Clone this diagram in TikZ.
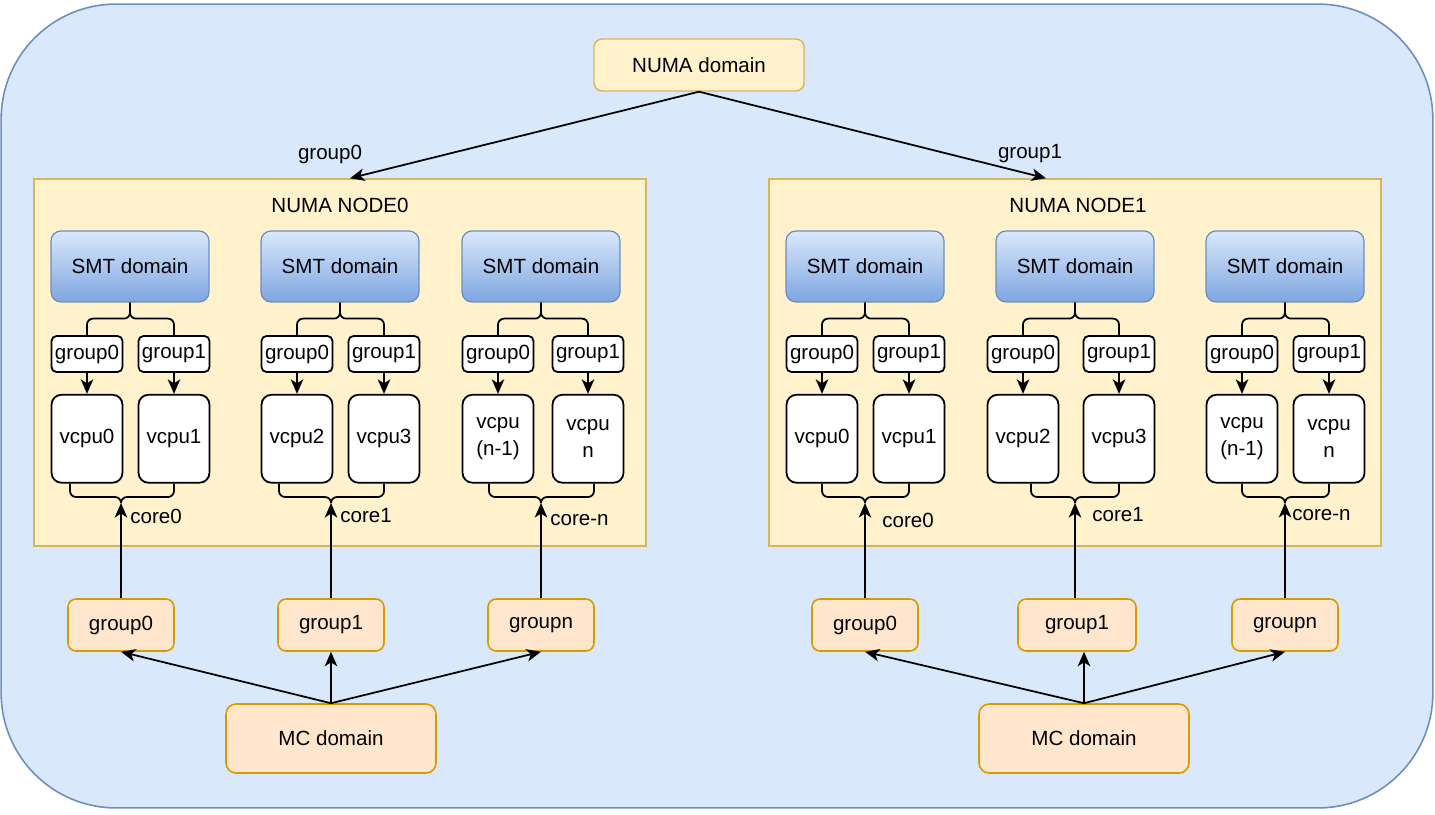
\documentclass[tikz,border=0pt]{standalone}
\usepackage{fontspec}
\setmainfont{Liberation Sans}
\usepackage{tikz}
\usetikzlibrary{arrows.meta,positioning,calc,backgrounds}
\definecolor{framefill}{RGB}{218,232,252}
\definecolor{framedraw}{RGB}{108,142,191}
\definecolor{numafill}{RGB}{255,242,204}
\definecolor{numadraw}{RGB}{214,182,86}
\definecolor{smttop}{RGB}{218,232,252}
\definecolor{smtbot}{RGB}{126,166,224}
\definecolor{mcfill}{RGB}{255,230,204}
\definecolor{mcdraw}{RGB}{215,155,0}

\begin{document}
\begin{tikzpicture}[x=0.02cm, y=-0.02cm, node distance=4.2mm and 3.4mm,
			>={Stealth[length=2.9mm,width=2.5mm,inset=0.8mm]},
			every node/.style={font=\fontsize{11.7}{15.3}\selectfont, text=black},
			frame/.style={draw=framedraw, fill=framefill, line width=0.9pt, rounded corners=2.3cm, minimum width=28.64cm, minimum height=16.08cm},
			numabox/.style={draw=numadraw, fill=numafill, line width=0.8pt, rounded corners=0.16cm, minimum width=4.2cm, minimum height=1.04cm},
			nodebox/.style={draw=numadraw, fill=numafill, line width=0.9pt, minimum width=12.24cm, minimum height=7.34cm, inner sep=0pt},
			smtbox/.style={draw=framedraw, top color=smttop, bottom color=smtbot, line width=0.7pt, rounded corners=0.2cm, minimum width=3.16cm, minimum height=1.42cm},
			smallgrp/.style={draw=black, fill=white, line width=1pt, rounded corners=0.1cm, minimum width=1.42cm, minimum height=0.72cm, inner sep=0pt},
			vcpubox/.style={draw=black, fill=white, line width=1pt, rounded corners=0.2cm, minimum width=1.42cm, minimum height=1.76cm, inner sep=0pt, align=center},
			ogroup/.style={draw=mcdraw, fill=mcfill, line width=0.9pt, rounded corners=0.16cm, minimum width=2.12cm, minimum height=1.04cm},
			mcbox/.style={draw=mcdraw, fill=mcfill, line width=0.9pt, rounded corners=0.2cm, minimum width=4.2cm, minimum height=1.38cm},
			word/.style={draw=none, inner sep=0pt},
			conn/.style={line width=1pt, ->},
			brace/.style={line width=1pt, rounded corners=0.12cm}
			]
			\useasboundingbox (0,0) rectangle (1435,814);
			\node[frame](outer) at (717,406) {};
			
			\node[numabox](numa) at (699,65) {NUMA domain};
			\node[word](lg0) at (330,154) {group0};
			\node[word](lg1) at (1030,154) {group1};
			
			\node[nodebox](node0) at (340,362.5) {};
			\node[nodebox](node1) at (1075,362.5) {};
			\node[word](title0) at (340,205) {NUMA NODE0};
			\node[word](title1) at (1078,205) {NUMA NODE1};
			
			% NUMA NODE0
			\node[smtbox](s0a) at (130,266.5) {SMT domain};
			\node[smtbox](s0b) at (340,266.5) {SMT domain};
			\node[smtbox](s0c) at (541,266.5) {SMT domain};
			
			\node[smallgrp](g0a0) at (87,354) {group0};
			\node[smallgrp](g0a1) at (174,354) {group1};
			\node[smallgrp](g0b0) at (297,354) {group0};
			\node[smallgrp](g0b1) at (384,354) {group1};
			\node[smallgrp](g0c0) at (498,354) {group0};
			\node[smallgrp](g0c1) at (588,354) {group1};
			
			\node[vcpubox](v0a0) [below = of g0a0] {vcpu0};
			\node[vcpubox](v0a1) [below = of g0a1] {vcpu1};
			\node[vcpubox](v0b0) [below = of g0b0] {vcpu2};
			\node[vcpubox](v0b1) [below = of g0b1] {vcpu3};
			\node[vcpubox](v0c0) [below = of g0c0] {vcpu\\(n-1)};
			\node[vcpubox](v0c1) [below = of g0c1] {vcpu\\n};
			
			\node[ogroup](og0a) at (121,625) {group0};
			\node[ogroup](og0b) at (331,625) {group1};
			\node[ogroup](og0c) at (541,625) {groupn};
			\node[mcbox](mc0) at (331,738.5) {MC domain};
			
			\node[word, anchor=west](c0a) at (130,516) {core0};
			\node[word, anchor=west](c0b) at (340,516) {core1};
			\node[word, anchor=west](c0c) at (550,520) {core-n};
			
			% NUMA NODE1
			\node[smtbox](s1a) at (865,266.5) {SMT domain};
			\node[smtbox](s1b) at (1075,266.5) {SMT domain};
			\node[smtbox](s1c) at (1285,266.5) {SMT domain};
			
			\node[smallgrp](g1a0) at (822,354) {group0};
			\node[smallgrp](g1a1) at (909,354) {group1};
			\node[smallgrp](g1b0) at (1023,354) {group0};
			\node[smallgrp](g1b1) at (1119,354) {group1};
			\node[smallgrp](g1c0) at (1242,354) {group0};
			\node[smallgrp](g1c1) at (1329,354) {group1};
			
			\node[vcpubox](v1a0) [below = of g1a0] {vcpu0};
			\node[vcpubox](v1a1) [below = of g1a1] {vcpu1};
			\node[vcpubox](v1b0) [below = of g1b0] {vcpu2};
			\node[vcpubox](v1b1) [below = of g1b1] {vcpu3};
			\node[vcpubox](v1c0) [below = of g1c0] {vcpu\\(n-1)};
			\node[vcpubox](v1c1) [below = of g1c1] {vcpu\\n};
			
			\node[ogroup](og1a) at (865,625) {group0};
			\node[ogroup, minimum width=2.36cm](og1b) at (1077,625) {group1};
			\node[ogroup](og1c) at (1285,625) {groupn};
			\node[mcbox](mc1) at (1084,738.5) {MC domain};
			
			\node[word, anchor=west](c1a) at (882,520) {core0};
			\node[word, anchor=west](c1b) at (1092,515) {core1};
			\node[word, anchor=west](c1c) at (1292,515) {core-n};
			
			% brace joints
			\coordinate (j0a) at ($(s0a.south)+(0,16)$);
			\coordinate (j0b) at ($(s0b.south)+(0,16)$);
			\coordinate (j0c) at ($(s0c.south)+(0,16)$);
			\coordinate (j1a) at ($(s1a.south)+(0,16)$);
			\coordinate (j1b) at ($(s1b.south)+(0,16)$);
			\coordinate (j1c) at ($(s1c.south)+(0,16)$);
			\coordinate (k0a) at (121,503);
			\coordinate (k0b) at (331,503);
			\coordinate (k0c) at (541,503);
			\coordinate (k1a) at (865,503);
			\coordinate (k1b) at (1075,503);
			\coordinate (k1c) at (1285,503);
			
			\draw [brace] (g0a0.north) |- (j0a) -- (s0a.south);
			\draw [brace] (g0a1.north) |- (j0a) -- (s0a.south);
			\draw [brace] (g0b0.north) |- (j0b) -- (s0b.south);
			\draw [brace] (g0b1.north) |- (j0b) -- (s0b.south);
			\draw [brace] (g0c0.north) |- (j0c) -- (s0c.south);
			\draw [brace] (g0c1.north) |- (j0c) -- (s0c.south);
			\draw [brace] (g1a0.north) |- (j1a) -- (s1a.south);
			\draw [brace] (g1a1.north) |- (j1a) -- (s1a.south);
			\draw [brace] (g1b0.north) |- (j1b) -- (s1b.south);
			\draw [brace] (g1b1.north) |- (j1b) -- (s1b.south);
			\draw [brace] (g1c0.north) |- (j1c) -- (s1c.south);
			\draw [brace] (g1c1.north) |- (j1c) -- (s1c.south);
			
			\draw [brace] ($(v0a0.south)+(-17,0)$) |- ($(k0a)+(0,-6)$) -- (k0a);
			\draw [brace] (v0a1.south) |- ($(k0a)+(0,-6)$) -- (k0a);
			\draw [brace] ($(v0b0.south)+(-18,0)$) |- ($(k0b)+(0,-6)$) -- (k0b);
			\draw [brace] (v0b1.south) |- ($(k0b)+(0,-6)$) -- (k0b);
			\draw [brace] ($(v0c0.south)+(-9,0)$) |- ($(k0c)+(0,-6)$) -- (k0c);
			\draw [brace] ($(v0c1.south)+(6,0)$) |- ($(k0c)+(0,-6)$) -- (k0c);
			\draw [brace] (v1a0.south) |- ($(k1a)+(0,-6)$) -- (k1a);
			\draw [brace] (v1a1.south) |- ($(k1a)+(0,-6)$) -- (k1a);
			\draw [brace] ($(v1b0.south)+(8,0)$) |- ($(k1b)+(0,-6)$) -- (k1b);
			\draw [brace] (v1b1.south) |- ($(k1b)+(0,-6)$) -- (k1b);
			\draw [brace] (v1c0.south) |- ($(k1c)+(0,-6)$) -- (k1c);
			\draw [brace] (v1c1.south) |- ($(k1c)+(0,-6)$) -- (k1c);
			
			% arrows
			\draw [conn] (numa.south) -- ($(node0.north)+(10,0)$);
			\draw [conn] (numa.south) -- ($(node1.north)+(-29,0)$);
			
			\draw [conn] (g0a0) -- (v0a0);
			\draw [conn] (g0a1) -- (v0a1);
			\draw [conn] (g0b0) -- (v0b0);
			\draw [conn] (g0b1) -- (v0b1);
			\draw [conn] (g0c0) -- (v0c0);
			\draw [conn] (g0c1) -- (v0c1);
			\draw [conn] (g1a0) -- (v1a0);
			\draw [conn] (g1a1) -- (v1a1);
			\draw [conn] (g1b0) -- (v1b0);
			\draw [conn] (g1b1) -- (v1b1);
			\draw [conn] (g1c0) -- (v1c0);
			\draw [conn] (g1c1) -- (v1c1);
			
			\draw [conn] (og0a.north) -- (k0a);
			\draw [conn] (og0b.north) -- (k0b);
			\draw [conn] (og0c.north) -- (k0c);
			\draw [conn] (og1a.north) -- (k1a);
			\draw [conn] (og1b.north -| k1b) -- (k1b);
			\draw [conn] (og1c.north) -- (k1c);
			
			\draw [conn] (mc0.north) -- (og0a.south);
			\draw [conn] (mc0.north) -- (og0b.south);
			\draw [conn] (mc0.north) -- (og0c.south);
			\draw [conn] (mc1.north) -- (og1a.south);
			\draw [conn] (mc1.north) -- (mc1.north |- og1b.south);
			\draw [conn] (mc1.north) -- (og1c.south);
			
		\end{tikzpicture}
\end{document}
